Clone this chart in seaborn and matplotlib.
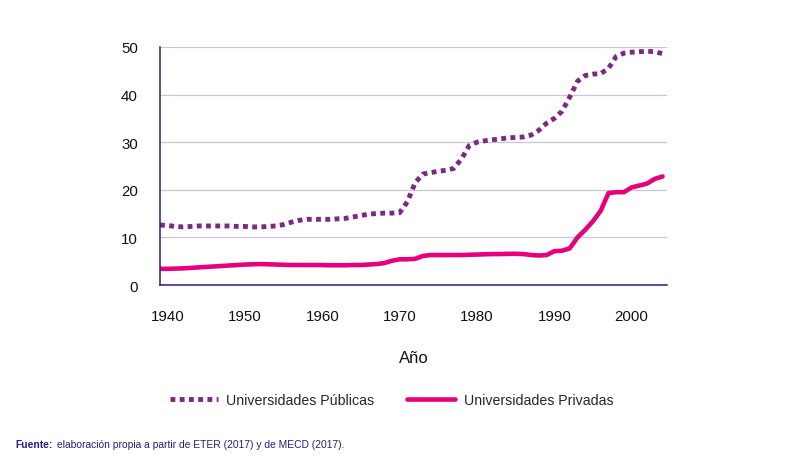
import matplotlib.pyplot as plt
import numpy as np
import seaborn as sns
import pandas as pd

years = list(range(1939, 2005))
publicas = [12.6, 12.5, 12.3, 12.2, 12.3, 12.4, 12.4, 12.4, 12.4, 12.4, 12.3, 12.3,
            12.2, 12.2, 12.3, 12.4, 12.7, 13.2, 13.6, 13.8, 13.8, 13.8, 13.8, 13.9,
            14.0, 14.3, 14.6, 14.9, 15.0, 15.1, 15.1, 15.2, 17.5, 21.5, 23.3, 23.6,
            23.9, 24.1, 24.5, 26.5, 29.3, 30.0, 30.3, 30.5, 30.7, 30.9, 31.0, 31.1,
            31.5, 32.5, 34.0, 35.0, 36.5, 39.5, 42.8, 44.0, 44.3, 44.4, 45.5, 48.0,
            48.7, 48.9, 49.0, 49.1, 49.0, 48.6]
privadas = [3.4, 3.4, 3.45, 3.5, 3.6, 3.7, 3.8, 3.9, 4.0, 4.1, 4.2, 4.3,
            4.35, 4.4, 4.35, 4.3, 4.25, 4.2, 4.2, 4.2, 4.2, 4.2, 4.15, 4.15,
            4.15, 4.2, 4.2, 4.3, 4.4, 4.6, 5.1, 5.4, 5.4, 5.5, 6.1, 6.3,
            6.3, 6.3, 6.3, 6.3, 6.35, 6.4, 6.45, 6.5, 6.5, 6.55, 6.55, 6.5,
            6.3, 6.2, 6.3, 7.1, 7.2, 7.7, 10.0, 11.6, 13.4, 15.6, 19.3, 19.5,
            19.5, 20.5, 20.9, 21.3, 22.3, 22.8]
xticks = [1940, 1950, 1960, 1970, 1980, 1990, 2000]
yticks = [0, 10, 20, 30, 40, 50]

df = pd.DataFrame({'Año': years, 'Universidades Públicas': publicas,
                   'Universidades Privadas': privadas})

sns.set_style('white')
plt.rcParams['font.family'] = ['Liberation Sans', 'DejaVu Sans']

fig = plt.figure(figsize=(8, 4.56), dpi=100)
ax = fig.add_axes([0.2, 0.3728, 0.634, 0.522])

sns.lineplot(data=df, x='Año', y='Universidades Públicas', ax=ax, color='#7b2a82',
             linewidth=3.5, linestyle=(0, (1, 0.9)), label='Universidades Públicas')
sns.lineplot(data=df, x='Año', y='Universidades Privadas', ax=ax, color='#e6007e',
             linewidth=3.3, solid_capstyle='round', label='Universidades Privadas')

ax.set_xlim(1939, 2004.6)
ax.set_ylim(0, 50)
ax.set_xticks(xticks)
ax.set_yticks(yticks)
ax.yaxis.grid(True, color='#c9c5dd', linewidth=0.9)
ax.set_axisbelow(True)
for s in ['top', 'right']:
    ax.spines[s].set_visible(False)
for s in ['left', 'bottom']:
    ax.spines[s].set_color('#2e1a7a')
    ax.spines[s].set_linewidth(1.1)
ax.tick_params(axis='x', length=0, pad=17, labelsize=10.8, colors='#111111')
ax.tick_params(axis='y', length=0, pad=16, labelsize=10.8, colors='#111111')
ax.set_xlabel('Año', fontsize=12, labelpad=20, color='#111111')
ax.set_ylabel('')

ax.legend(loc='center', bbox_to_anchor=(0.4895, 0.12), bbox_transform=fig.transFigure,
          ncol=2, frameon=False, fontsize=10.2, handlelength=3.4, columnspacing=2.3,
          handletextpad=0.6)

fig.text(0.019, 0.018, 'Fuente:', fontsize=7.4, color='#2e1a7a', fontweight='bold')
fig.text(0.071, 0.018, 'elaboración propia a partir de ETER (2017) y de MECD (2017).',
         fontsize=7.4, color='#2e1a7a')

fig.savefig('out.png', dpi=100)
